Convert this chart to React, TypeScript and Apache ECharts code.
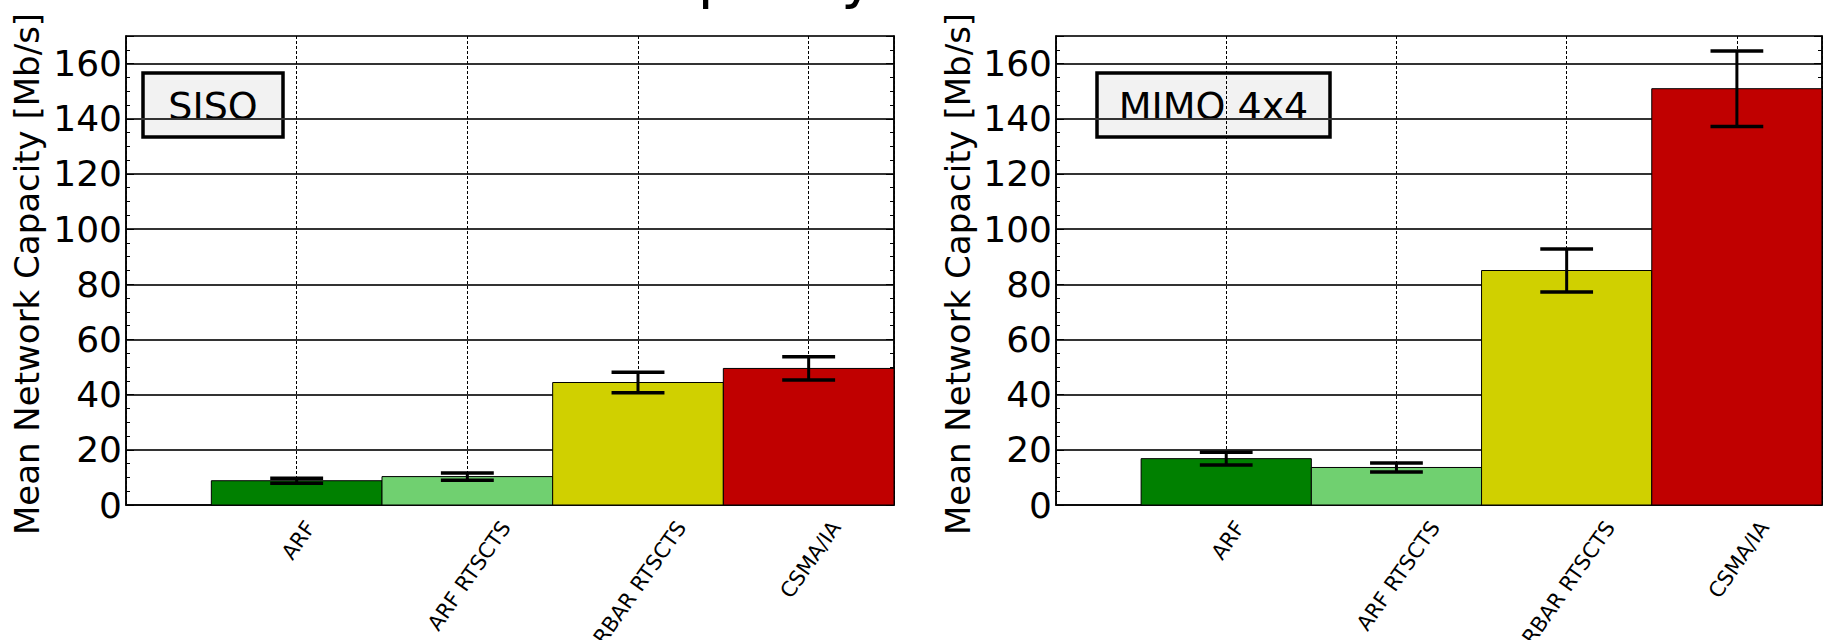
import React, { useEffect, useRef } from "react";
import * as echarts from "echarts";

const categories = ["ARF", "ARF RTSCTS", "RBAR RTSCTS", "CSMA/IA"];
const categoryPositions = [1, 2, 3, 4];
const sisoMeans = [8.8, 10.3, 44.4, 49.5];
const sisoErrors = [0.9, 1.3, 3.7, 4.2];
const mimoMeans = [16.8, 13.6, 85.0, 150.9];
const mimoErrors = [2.3, 1.6, 7.8, 13.7];
const barColors = ["#008000", "#70d070", "#d0d000", "#c00000"];
const panelLabels = ["SISO", "MIMO 4x4"];
const yAxisTitle = "Mean Network Capacity [Mb/s]";
const figureTitle = "Mean Network Capacity";
const yMin = 0;
const yMax = 170;
const yInterval = 20;
const xMin = 0;
const xMax = 4.5;

const FONT = "DejaVu Sans";
const XLABEL_SIZE = 21;
const XLABEL_ROT = 55;

let measureCtx: CanvasRenderingContext2D | null = null;
function textWidth(t: string): number {
  if (!measureCtx) {
    measureCtx = document.createElement("canvas").getContext("2d");
  }
  if (!measureCtx) return t.length * XLABEL_SIZE * 0.62;
  measureCtx.font = `${XLABEL_SIZE}px "${FONT}"`;
  return measureCtx.measureText(t).width;
}

function barSeries(means: number[], idx: number) {
  return {
    type: "custom",
    xAxisIndex: idx,
    yAxisIndex: idx * 2,
    clip: false,
    encode: { x: 0, y: 1 },
    data: means.map((m, i) => [categoryPositions[i], m]),
    renderItem: (params: any, api: any) => {
      const x = api.value(0);
      const y = api.value(1);
      const p0 = api.coord([x - 0.5, y]);
      const p1 = api.coord([x + 0.5, 0]);
      return {
        type: "rect",
        shape: { x: p0[0], y: p0[1], width: p1[0] - p0[0], height: p1[1] - p0[1] },
        style: { fill: barColors[params.dataIndex], stroke: "#000", lineWidth: 1 },
      };
    },
    z: 3,
  };
}

function errorSeries(means: number[], errs: number[], idx: number) {
  return {
    type: "custom",
    xAxisIndex: idx,
    yAxisIndex: idx * 2,
    clip: false,
    encode: { x: 0, y: 1 },
    data: means.map((m, i) => [categoryPositions[i], m, errs[i]]),
    renderItem: (params: any, api: any) => {
      const x = api.value(0);
      const m = api.value(1);
      const e = api.value(2);
      const top = api.coord([x, m + e]);
      const bot = api.coord([x, m - e]);
      const capL = api.coord([x - 0.155, m])[0];
      const capR = api.coord([x + 0.155, m])[0];
      return {
        type: "group",
        children: [
          { type: "line", shape: { x1: top[0], y1: top[1], x2: bot[0], y2: bot[1] }, style: { stroke: "#000", lineWidth: 3 } },
          { type: "line", shape: { x1: capL, y1: top[1], x2: capR, y2: top[1] }, style: { stroke: "#000", lineWidth: 3.5 } },
          { type: "line", shape: { x1: capL, y1: bot[1], x2: capR, y2: bot[1] }, style: { stroke: "#000", lineWidth: 3.5 } },
        ],
      };
    },
    z: 4,
  };
}

// category tick labels, centred under each tick (matplotlib style rotated labels)
function labelSeries(idx: number) {
  return {
    type: "custom",
    xAxisIndex: idx,
    yAxisIndex: idx * 2,
    clip: false,
    silent: true,
    encode: { x: 0, y: 1 },
    data: categoryPositions.map((p) => [p, 0]),
    renderItem: (params: any, api: any) => {
      const text = categories[params.dataIndex];
      const pt = api.coord([api.value(0), 0]);
      const th = (XLABEL_ROT * Math.PI) / 180;
      const w = textWidth(text);
      const h = XLABEL_SIZE * 0.75;
      const halfDy = (w * Math.sin(th) + h * Math.cos(th)) / 2;
      return {
        type: "text",
        x: pt[0] + 2,
        y: pt[1] + 14 + halfDy,
        rotation: th,
        style: {
          text,
          fontSize: XLABEL_SIZE,
          fontFamily: FONT,
          fill: "#000",
          align: "center",
          verticalAlign: "middle",
        },
      };
    },
    z: 5,
  };
}

function xAxis(idx: number) {
  return {
    type: "value",
    gridIndex: idx,
    min: xMin,
    max: xMax,
    interval: 1,
    axisLine: { show: true, lineStyle: { color: "#000", width: 1.5 } },
    axisTick: { show: false },
    axisLabel: { show: false },
    splitLine: { show: true, lineStyle: { color: "#000", width: 1, type: [3, 2] } },
  };
}

function yAxes(idx: number) {
  const common = {
    type: "value",
    gridIndex: idx,
    min: yMin,
    max: yMax,
    interval: yInterval,
    axisLine: { show: true, lineStyle: { color: "#000", width: 1.5 } },
    axisTick: { show: true, inside: true, length: 8, lineStyle: { color: "#000", width: 1 } },
    minorTick: { show: true, splitNumber: 4, length: 4, lineStyle: { color: "#000", width: 1 } },
  };
  return [
    {
      ...common,
      position: "left",
      axisLabel: {
        fontSize: 36,
        fontFamily: FONT,
        color: "#000",
        margin: 4,
        showMaxLabel: false,
        formatter: (v: number) => (v % yInterval === 0 ? String(v) : ""),
      },
      splitLine: { show: true, lineStyle: { color: "#333", width: 1.8 } },
    },
    {
      ...common,
      position: "right",
      axisLabel: { show: false },
      splitLine: { show: false },
    },
  ];
}

export default function App() {
  const ref = useRef<HTMLDivElement>(null);
  useEffect(() => {
    if (!ref.current) return;
    const chart = echarts.init(ref.current, null, { renderer: "svg" });
    const grids = [
      { left: 126, top: 36, width: 768, height: 469 },
      { left: 1056, top: 36, width: 766, height: 469 },
    ];
    const boxes = [
      { x: 143, y: 73, w: 140, h: 64 },
      { x: 1097, y: 73, w: 233, h: 64 },
    ];
    const graphic: any[] = [
      {
        type: "text",
        x: 530,
        y: 6,
        style: {
          text: figureTitle,
          fontSize: 58,
          fontFamily: FONT,
          fill: "#000",
          align: "center",
          verticalAlign: "bottom",
        },
      },
      {
        type: "text",
        x: 27,
        y: 274,
        rotation: Math.PI / 2,
        style: { text: yAxisTitle, fontSize: 34, fontFamily: FONT, fill: "#000", align: "center", verticalAlign: "middle" },
      },
      {
        type: "text",
        x: 958,
        y: 274,
        rotation: Math.PI / 2,
        style: { text: yAxisTitle, fontSize: 34, fontFamily: FONT, fill: "#000", align: "center", verticalAlign: "middle" },
      },
    ];
    boxes.forEach((b, i) => {
      graphic.push({
        type: "group",
        z: 10,
        children: [
          {
            type: "rect",
            shape: { x: b.x, y: b.y, width: b.w, height: b.h },
            style: { fill: "#f2f2f2", stroke: "#000", lineWidth: 3.5 },
          },
          {
            type: "text",
            x: b.x + b.w / 2,
            y: b.y + b.h / 2 + 1,
            style: {
              text: panelLabels[i],
              fontSize: 38,
              fontFamily: FONT,
              fill: "#000",
              align: "center",
              verticalAlign: "middle",
            },
          },
        ],
      });
    });
    chart.setOption({
      animation: false,
      backgroundColor: "#fff",
      grid: grids.map((g) => ({ ...g, show: true, borderColor: "#000", borderWidth: 1.5, backgroundColor: "transparent" })),
      xAxis: [xAxis(0), xAxis(1)],
      yAxis: [...yAxes(0), ...yAxes(1)],
      series: [
        barSeries(sisoMeans, 0),
        errorSeries(sisoMeans, sisoErrors, 0),
        labelSeries(0),
        barSeries(mimoMeans, 1),
        errorSeries(mimoMeans, mimoErrors, 1),
        labelSeries(1),
      ],
      graphic,
    });
    return () => chart.dispose();
  }, []);
  return (
    <div
      ref={ref}
      style={{ position: "fixed", left: 0, top: 0, width: 1829, height: 640, background: "#fff" }}
    />
  );
}
